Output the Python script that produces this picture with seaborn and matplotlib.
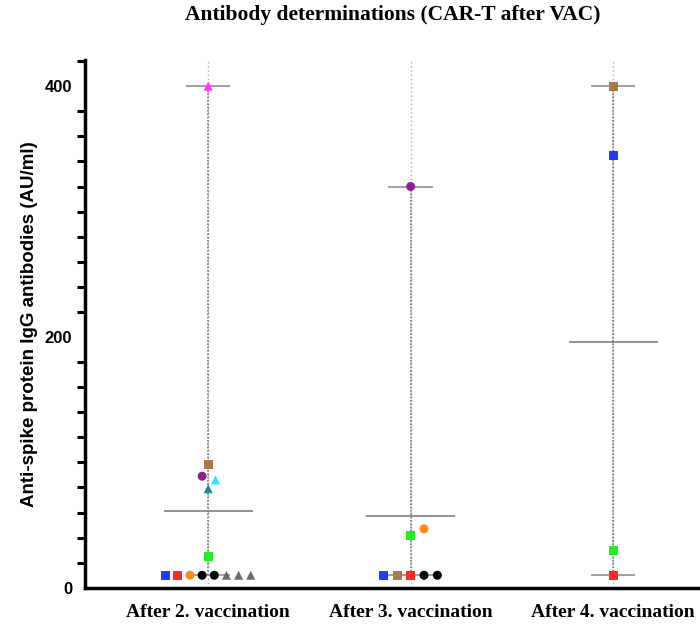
import numpy as np
import pandas as pd
import seaborn as sns
import matplotlib.pyplot as plt
from matplotlib.ticker import MultipleLocator

sns.set_theme(style="white")

# categories
groups = ["After 2. vaccination", "After 3. vaccination", "After 4. vaccination"]

# antibody values (AU/ml), with the patient of each point
vac2_vals = [10, 10, 10, 10, 10, 10, 10, 10, 25, 79, 86, 89, 98, 400]
vac2_ids = ["p1", "p2", "p3", "p4", "p5", "p6", "p7", "p8", "p9", "p10", "p11", "p12", "p13", "p14"]
vac3_vals = [10, 10, 10, 10, 10, 42, 47, 320]
vac3_ids = ["p1", "p13", "p2", "p4", "p5", "p9", "p3", "p12"]
vac4_vals = [10, 30, 345, 400]
vac4_ids = ["p2", "p9", "p1", "p13"]

patient_colors = {
    "p1": "#1f3bff", "p2": "#ff2a1f", "p3": "#ff8c1a", "p4": "black", "p5": "black",
    "p6": "#6b6b6b", "p7": "#6b6b6b", "p8": "#6b6b6b", "p9": "#22ee22", "p10": "#1a8a96",
    "p11": "#29e6ff", "p12": "#8e1f8e", "p13": "#a87a4a", "p14": "#ff33ff",
}
patient_markers = {
    "p1": "s", "p2": "s", "p3": "o", "p4": "o", "p5": "o", "p6": "^", "p7": "^", "p8": "^",
    "p9": "s", "p10": "^", "p11": "^", "p12": "o", "p13": "s", "p14": "^",
}

# horizontal spread of overlapping points (layout only)
vac2_dx = np.array([-3.5, -2.5, -1.5, -0.5, 0.5, 1.5, 2.5, 3.5, 0, 0, 0.6, -0.5, 0, 0]) * 0.06
vac3_dx = np.array([-2, -1, 0, 1, 2, 0, 1, 0]) * 0.066
vac4_dx = np.zeros(len(vac4_vals))

frames = []
for i, (vals, ids, dx) in enumerate([(vac2_vals, vac2_ids, vac2_dx),
                                     (vac3_vals, vac3_ids, vac3_dx),
                                     (vac4_vals, vac4_ids, vac4_dx)]):
    frames.append(pd.DataFrame({"group": groups[i], "value": vals, "patient": ids, "x": i + dx}))
df = pd.concat(frames, ignore_index=True)

# mean line + range (min..max) per group
stats = df.groupby("group", sort=False)["value"].agg(["mean", "min", "max"])

fig = plt.figure(figsize=(7, 6.3), dpi=100)
ax = fig.add_axes([0.121, 0.067, 0.885, 0.838])

for i, g in enumerate(groups):
    ax.axvline(i, color="#aaaaaa", ls=(0, (1, 2)), lw=1, zorder=1)
    ax.vlines(i, stats.loc[g, "min"], stats.loc[g, "max"], color="#777777", ls=(0, (1, 1)), lw=1.2, zorder=2)
    ax.hlines([stats.loc[g, "min"], stats.loc[g, "max"]], i - 0.11, i + 0.11, color="#999999", lw=1.3, zorder=2)
    ax.hlines(stats.loc[g, "mean"], i - 0.22, i + 0.22, color="#888888", lw=1.3, zorder=2)

sns.scatterplot(data=df, x="x", y="value", hue="patient", style="patient",
                palette=patient_colors, markers=patient_markers, s=42,
                edgecolor="none", legend=False, ax=ax, zorder=5)

ax.set_xlim(-0.61, 2.45)
ax.set_ylim(0, 421)
ax.set_xticks(range(len(groups)))
ax.set_xticklabels(groups, family="Liberation Serif", fontweight="bold", fontsize=14, color="black")
ax.set_yticks([0, 200, 400])
ax.set_yticklabels(["0", "200", "400"], family="Liberation Sans", fontweight="bold", fontsize=12, color="black")
ax.yaxis.set_minor_locator(MultipleLocator(20))
ax.tick_params(axis="x", which="major", direction="out", length=8, width=2.2, colors="black", pad=4)
ax.tick_params(axis="y", which="major", direction="out", length=7, width=2.2, colors="black", pad=2)
ax.tick_params(axis="y", which="minor", direction="out", length=6, width=2.2, left=True, colors="black")
ax.set_xlabel("")
ax.set_ylabel("Anti-spike protein IgG antibodies (AU/ml)", family="Liberation Sans",
              fontweight="bold", fontsize=13.5, labelpad=5, color="black")

for side in ["top", "right"]:
    ax.spines[side].set_visible(False)
for side in ["left", "bottom"]:
    ax.spines[side].set_linewidth(2.5)
    ax.spines[side].set_color("black")

fig.text(0.561, 0.976, "Antibody determinations (CAR-T after VAC)", ha="center", va="center",
         family="Liberation Serif", fontweight="bold", fontsize=15.5, color="black")

fig.savefig("out.png", dpi=100)
